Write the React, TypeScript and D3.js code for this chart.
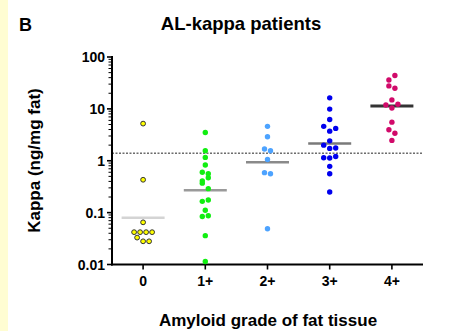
import React from 'react'
import * as d3 from 'd3'

const grades = ['0', '1+', '2+', '3+', '4+']

// kappa values (ng/mg fat) per amyloid grade
const grade0 = [5.2, 0.43, 0.065, 0.042, 0.042, 0.042, 0.042, 0.033, 0.028, 0.028]
const grade1 = [3.5, 1.56, 1.16, 0.83, 0.6, 0.56, 0.47, 0.41, 0.37, 0.29, 0.165, 0.175, 0.111, 0.084, 0.087, 0.036, 0.0114]
const grade2 = [4.6, 2.9, 1.68, 1.56, 1.06, 0.59, 0.56, 0.049]
const grade3 = [16.3, 9.9, 6.25, 4.6, 4.2, 3.72, 2.42, 2.0, 1.73, 1.76, 1.14, 1.13, 1.21, 0.78, 0.56, 0.25]
const grade4 = [43.9, 36, 27.7, 25, 14.9, 11.9, 12.3, 10.4, 5.55, 3.95, 3.4, 2.47]

// scatter slot (column jitter) of each point
const slot0 = [0, 0, 0, -1.5, -0.5, 0.5, 1.5, -1, 0, 1]
const slot1 = [0, 0, 0, 0, -0.5, 0.5, 0.5, -0.5, -0.5, 0.5, -0.5, 0.5, 0, -0.5, 0.5, 0, 0]
const slot2 = [0, 0, -0.5, 0.5, 0, -0.5, 0.5, 0]
const slot3 = [0, 0, 0, -1, 1, 0, 0, -1, 0, 1, -1, 0, 1, 0, 0, 0]
const slot4 = [0.5, -0.5, -0.5, 0.5, 0, -1, 1, 0, 0, -0.5, 0.5, 0]

const medians = [0.08, 0.27, 0.94, 2.16, 11.3]
const cutoff = 1.4
const yTicks = [100, 10, 1, 0.1, 0.01]

const values = [grade0, grade1, grade2, grade3, grade4]
const slots = [slot0, slot1, slot2, slot3, slot4]
const dotColors = ['#ffff00', '#11ee11', '#4da3ff', '#0000ee', '#d10a6a']
const medianColors = ['#d4d4d4', '#9a9a9a', '#8a8a8a', '#7a7a7a', '#333333']

const W = 458
const H = 331
const font = 'Arial, "Liberation Sans", Helvetica, sans-serif'

const App: React.FC = () => {
  const left = 112
  const right = 423
  const top = 57
  const bottom = 264.5

  const x = d3.scaleBand<string>().domain(grades).range([left, right])
  const y = d3.scaleLog().domain([0.01, 100]).range([bottom, top])
  const cx = (g: string) => (x(g) ?? 0) + x.bandwidth() / 2
  const slotW = 6

  const minor: number[] = []
  for (let e = -2; e < 2; e++) {
    for (let m = 2; m <= 9; m++) minor.push(m * Math.pow(10, e))
  }

  return (
    <div style={{ position: 'fixed', left: 0, top: 0, width: W, height: H, background: '#fff' }}>
      <svg width={W} height={H} style={{ display: 'block', fontFamily: font }}>
        <rect x={0} y={0} width={W} height={H} fill="#fff" />
        <rect x={0} y={0} width={8} height={H} fill="#fffdd2" />

        <text x={19} y={30.5} fontSize={18} fontWeight="bold">B</text>
        <text x={241} y={29.5} fontSize={18.5} fontWeight="bold" textAnchor="middle">AL-kappa patients</text>

        {/* cutoff line */}
        <line x1={left} x2={right} y1={y(cutoff)} y2={y(cutoff)} stroke="#222" strokeWidth={1} strokeDasharray="2,1.5" />

        {/* y axis */}
        <line x1={left} x2={left} y1={top - 1} y2={bottom + 1} stroke="#000" strokeWidth={2} />
        {minor.map((v, i) => (
          <line key={'m' + i} x1={left - 3.5} x2={left} y1={y(v)} y2={y(v)} stroke="#000" strokeWidth={1} />
        ))}
        {yTicks.map(v => (
          <g key={'t' + v}>
            <line x1={left - 5} x2={left} y1={y(v)} y2={y(v)} stroke="#000" strokeWidth={1.6} />
            <text x={105} y={y(v)} dy="0.36em" fontSize={14} fontWeight="bold" textAnchor="end">{v}</text>
          </g>
        ))}
        <text transform={`translate(39.5,160.5) rotate(-90)`} fontSize={17} fontWeight="bold" textAnchor="middle">Kappa (ng/mg fat)</text>

        {/* x axis */}
        <line x1={left - 1} x2={right} y1={bottom} y2={bottom} stroke="#000" strokeWidth={2} />
        {grades.map(g => (
          <g key={'x' + g}>
            <line x1={cx(g)} x2={cx(g)} y1={bottom} y2={bottom + 5} stroke="#000" strokeWidth={1.6} />
            <text x={cx(g)} y={286} fontSize={14} fontWeight="bold" textAnchor="middle">{g}</text>
          </g>
        ))}
        <text x={268} y={326} fontSize={17} fontWeight="bold" textAnchor="middle">Amyloid grade of fat tissue</text>

        {/* medians */}
        {grades.map((g, i) => (
          <line key={'md' + g} x1={cx(g) - 21.5} x2={cx(g) + 21.5} y1={y(medians[i])} y2={y(medians[i])}
            stroke={medianColors[i]} strokeWidth={i === 4 ? 3 : 2.5} />
        ))}

        {/* points */}
        {grades.map((g, i) =>
          values[i].map((v, j) => (
            <circle key={g + '-' + j} cx={cx(g) + slots[i][j] * slotW} cy={y(v)} r={i === 0 ? 2.4 : 2.7}
              fill={dotColors[i]} stroke={i === 0 ? '#333' : 'none'} strokeWidth={1} />
          ))
        )}
      </svg>
    </div>
  )
}

export default App
